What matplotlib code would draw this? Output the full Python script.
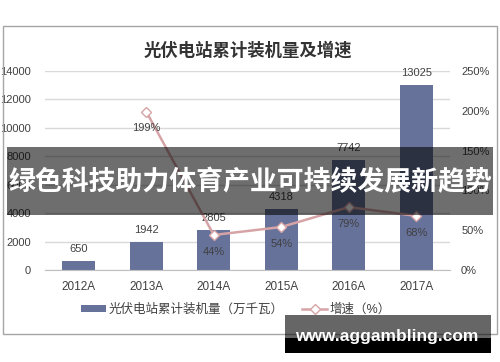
import matplotlib
matplotlib.use("Agg")
import matplotlib.pyplot as plt
from matplotlib.patches import Rectangle
from matplotlib.lines import Line2D
from matplotlib.patches import Patch

plt.rcParams['font.family'] = ['Liberation Sans', 'Noto Sans CJK SC', 'DejaVu Sans']

years = ["2012A", "2013A", "2014A", "2015A", "2016A", "2017A"]
capacity = [650, 1942, 2805, 4318, 7742, 13025]
growth_years = ["2013A", "2014A", "2015A", "2016A", "2017A"]
growth = [199, 44, 54, 79, 68]
left_ticks = [0, 2000, 4000, 6000, 8000, 10000, 12000, 14000]
right_ticks = [0, 50, 100, 150, 200, 250]

title = "光伏电站累计装机量及增速"
bar_label = "光伏电站累计装机量（万千瓦）"
line_label = "增速（%）"
banner = "绿色科技助力体育产业可持续发展新趋势"
watermark = "www.aggambling.com"

W, H = 500, 362
fig = plt.figure(figsize=(W / 100, H / 100), dpi=100)

def fx(x):
    return x / W

def fy(y):
    return 1 - y / H

bar_color = "#66729A"
line_color = "#D6A4A6"
grid_color = "#D9D9D9"
text_color = "#404040"

ax = fig.add_axes([fx(45), fy(270), fx(450) - fx(45), fy(71) - fy(270)])
xpos = list(range(len(years)))
ax.bar(xpos, capacity, width=0.49, color=bar_color, zorder=2)
ax.set_xlim(-0.5, len(years) - 0.5)
ax.set_ylim(0, 14000)
ax.set_yticks(left_ticks)
ax.set_yticklabels([str(t) for t in left_ticks])
ax.set_xticks(xpos)
ax.set_xticklabels(years)
ax.grid(axis='y', color=grid_color, linewidth=1, zorder=0)
for s in ['top', 'right', 'left']:
    ax.spines[s].set_visible(False)
ax.spines['bottom'].set_color("#BFBFBF")
ax.tick_params(axis='both', length=0, labelsize=8, colors=text_color)
ax.tick_params(axis='x', pad=8, labelsize=8.5)
ax.tick_params(axis='y', pad=10)
for x, v in zip(xpos, capacity):
    ax.annotate(str(v), (x, v), xytext=(0, 5), textcoords='offset points',
                ha='center', va='bottom', fontsize=8, color=text_color)

ax2 = ax.twinx()
ax2.set_ylim(0, 250)
ax2.set_yticks(right_ticks)
ax2.set_yticklabels([f"{t}%" for t in right_ticks])
for s in ['top', 'right', 'left', 'bottom']:
    ax2.spines[s].set_visible(False)
ax2.tick_params(axis='y', length=0, labelsize=8, colors=text_color, pad=8)
gx = [years.index(y) for y in growth_years]
ax2.plot(gx, growth, color=line_color, linewidth=1.8, marker='D', markersize=5.5,
         markerfacecolor='white', markeredgecolor=line_color, markeredgewidth=1, zorder=3)
for x, v in zip(gx, growth):
    ax2.annotate(f"{v}%", (x, v), xytext=(0, -12), textcoords='offset points',
                 ha='center', va='center', fontsize=8, color=text_color)

# title
fig.text(fx(248), fy(50), title, ha='center', va='center', fontsize=12.5,
         fontweight='bold', color="#333333")

# legend
handles = [Patch(facecolor=bar_color, edgecolor='none'),
           Line2D([0], [0], color=line_color, linewidth=1.8, marker='D', markersize=5,
                  markerfacecolor='white', markeredgecolor=line_color)]
fig.legend(handles, [bar_label, line_label], loc='center', ncol=2,
           bbox_to_anchor=(fx(236), fy(310)), frameon=False, fontsize=9,
           handlelength=2.0, handleheight=0.5, handletextpad=0.2, columnspacing=1.5,
           labelcolor=text_color)

# outer frame
fig.patches.append(Rectangle((fx(3), fy(334)), fx(497) - fx(3), fy(26) - fy(334),
                             transform=fig.transFigure, fill=False, edgecolor="#A6A6A6",
                             linewidth=1, zorder=1))

# banner overlay
fig.patches.append(Rectangle((fx(7), fy(215)), fx(493) - fx(7), fy(147) - fy(215),
                             transform=fig.transFigure, facecolor='black', alpha=0.57,
                             edgecolor='none', zorder=10))
fig.text(fx(250), fy(182), banner, ha='center', va='center', fontsize=19.4,
         fontweight='bold', color='white', family=['Noto Sans CJK SC', 'DejaVu Sans'],
         zorder=11)

# watermark
fig.patches.append(Rectangle((fx(285), fy(338)), fx(491) - fx(285), fy(315) - fy(338),
                             transform=fig.transFigure, facecolor='black', alpha=0.6,
                             edgecolor='none', zorder=10))
fig.patches.append(Rectangle((fx(285), fy(353)), fx(491) - fx(285), fy(338) - fy(353),
                             transform=fig.transFigure, facecolor='black',
                             edgecolor='none', zorder=10))
fig.text(fx(387), fy(336), watermark, ha='center', va='center', fontsize=12.5,
         fontweight='bold', color='white', zorder=11)

fig.savefig("out.png", dpi=100)
